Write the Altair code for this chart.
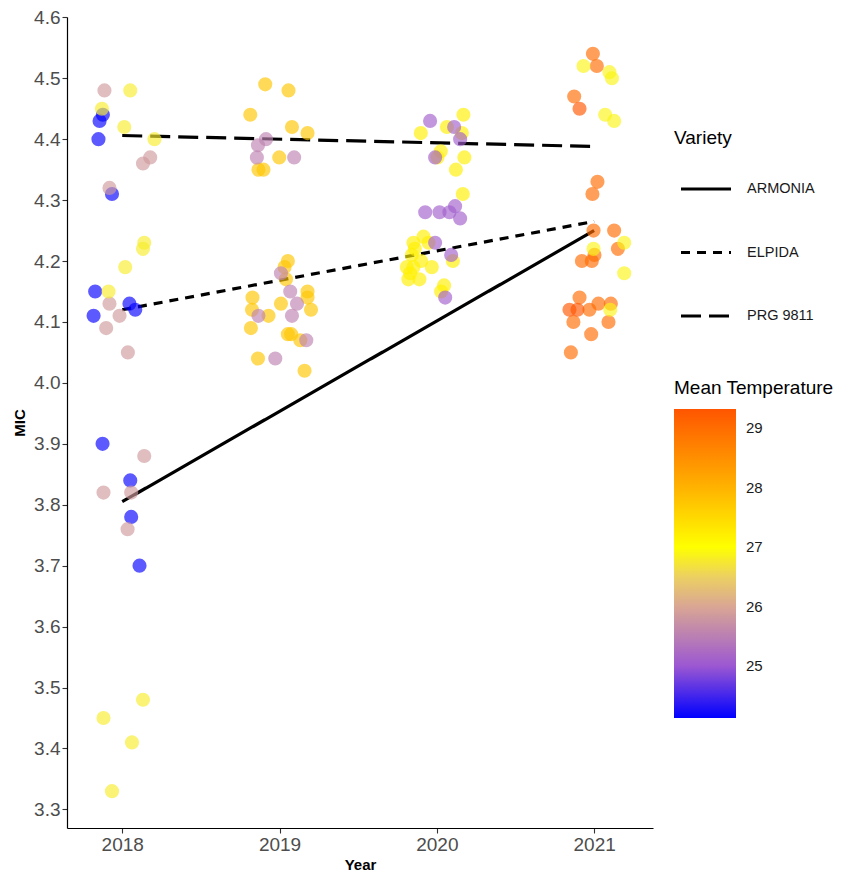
import altair as alt
import pandas as pd

# ---- point data (jittered Year, MIC, mean temperature) ----
x_2018_blue = [2017.877, 2017.856, 2017.849, 2017.935, 2017.828, 2018.046, 2018.083, 2017.818, 2017.875, 2018.051, 2018.057, 2018.110]
y_2018_blue = [4.44, 4.43, 4.40, 4.31, 4.15, 4.13, 4.12, 4.11, 3.90, 3.84, 3.78, 3.70]
x_2018_pink = [2017.887, 2018.178, 2018.132, 2017.919, 2017.919, 2017.983, 2017.898, 2018.036, 2018.140, 2017.881, 2018.057, 2018.034]
y_2018_pink = [4.48, 4.37, 4.36, 4.32, 4.13, 4.11, 4.09, 4.05, 3.88, 3.82, 3.82, 3.76]
x_2018_yell = [2018.051, 2017.871, 2018.013, 2018.205, 2018.140, 2018.132, 2018.019, 2017.913, 2018.132, 2017.881, 2018.062, 2017.935]
y_2018_yell = [4.48, 4.45, 4.42, 4.40, 4.23, 4.22, 4.19, 4.15, 3.48, 3.45, 3.41, 3.33]

x_2019_gold = [2018.909, 2019.057, 2018.814, 2019.079, 2019.178, 2018.998, 2018.866, 2018.898, 2019.053, 2019.032, 2019.041, 2019.178,
               2018.828, 2019.178, 2019.009, 2018.825, 2019.200, 2018.930, 2018.818, 2019.053, 2019.074, 2019.132, 2018.863, 2019.159]
y_2019_gold = [4.49, 4.48, 4.44, 4.42, 4.41, 4.37, 4.35, 4.35, 4.20, 4.19, 4.17, 4.15,
               4.14, 4.14, 4.13, 4.12, 4.12, 4.11, 4.09, 4.08, 4.08, 4.07, 4.04, 4.02]
x_2019_mauv = [2018.914, 2018.863, 2018.856, 2019.093, 2019.009, 2019.068, 2019.111, 2019.079, 2018.866, 2019.170, 2018.973]
y_2019_mauv = [4.40, 4.39, 4.37, 4.37, 4.18, 4.15, 4.13, 4.11, 4.11, 4.07, 4.04]

x_2020_yell = [2020.169, 2020.064, 2019.898, 2020.159, 2020.025, 2020.004, 2020.175, 2020.121, 2020.165, 2019.915, 2019.851, 2019.947,
               2019.841, 2020.102, 2019.809, 2019.851, 2019.968, 2019.830, 2019.889, 2019.819, 2020.046, 2020.027, 2019.860, 2019.900]
y_2020_yell = [4.44, 4.42, 4.41, 4.41, 4.38, 4.37, 4.37, 4.35, 4.31, 4.24, 4.23, 4.23,
               4.21, 4.20, 4.19, 4.19, 4.19, 4.18, 4.17, 4.17, 4.16, 4.15, 4.22, 4.20]
x_2020_purp = [2019.957, 2020.110, 2020.148, 2019.989, 2019.926, 2020.017, 2020.116, 2020.080, 2020.148, 2019.989, 2020.091, 2020.053]
y_2020_purp = [4.43, 4.42, 4.40, 4.37, 4.28, 4.28, 4.29, 4.28, 4.27, 4.23, 4.21, 4.14]

x_2021_oran = [2020.992, 2021.017, 2020.873, 2021.021, 2020.989, 2020.996, 2021.127, 2021.151, 2021.002, 2020.922, 2020.985,
               2020.907, 2021.027, 2021.106, 2020.970, 2020.868, 2021.091, 2020.981, 2020.852]
y_2021_oran = [4.54, 4.52, 4.47, 4.33, 4.31, 4.25, 4.25, 4.22, 4.21, 4.20, 4.20,
               4.14, 4.13, 4.13, 4.12, 4.10, 4.10, 4.08, 4.05]
x_2021_dark = [2020.907, 2020.843, 2020.894]
y_2021_dark = [4.45, 4.12, 4.12]
x_2021_yell = [2020.932, 2021.097, 2021.113, 2021.070, 2021.127, 2021.191, 2020.996, 2021.191, 2021.102]
y_2021_yell = [4.52, 4.51, 4.50, 4.44, 4.43, 4.23, 4.22, 4.18, 4.12]

groups = [
    (x_2018_blue, y_2018_blue, 24.15),
    (x_2018_pink, y_2018_pink, 25.85),
    (x_2018_yell, y_2018_yell, 26.80),
    (x_2019_gold, y_2019_gold, 27.75),
    (x_2019_mauv, y_2019_mauv, 25.55),
    (x_2020_yell, y_2020_yell, 27.20),
    (x_2020_purp, y_2020_purp, 25.10),
    (x_2021_oran, y_2021_oran, 29.00),
    (x_2021_dark, y_2021_dark, 29.30),
    (x_2021_yell, y_2021_yell, 26.90),
]

rows = []
for xs, ys, t in groups:
    for xv, yv in zip(xs, ys):
        rows.append({"Year": xv, "MIC": yv, "Mean Temperature": t})
points = pd.DataFrame(rows)

# ---- fitted lines per variety ----
line_variety = ["ARMONIA", "ARMONIA", "ELPIDA", "ELPIDA", "PRG 9811", "PRG 9811"]
line_year = [2018, 2021, 2018, 2021, 2018, 2021]
line_mic = [3.805, 4.25, 4.12, 4.265, 4.406, 4.388]
lines = pd.DataFrame({"Variety": line_variety, "Year": line_year, "MIC": line_mic})

varieties = ["ARMONIA", "ELPIDA", "PRG 9811"]
temp_stops = [24.13, 25.0, 26.0, 26.6, 27.0, 28.0, 29.32]
temp_colors = ["#0000ff", "#9b57d2", "#d9a694", "#f0d858", "#ffff00", "#ffb300", "#ff5500"]
y_ticks = [3.3, 3.4, 3.5, 3.6, 3.7, 3.8, 3.9, 4.0, 4.1, 4.2, 4.3, 4.4, 4.5, 4.6]
x_ticks = [2018, 2019, 2020, 2021]

FONT = "Liberation Sans"

x_enc = alt.X("Year:Q",
              scale=alt.Scale(domain=[2017.649, 2021.374], nice=False, zero=False),
              axis=alt.Axis(values=x_ticks, format="d", title="Year", titlePadding=3, labelPadding=2))
y_enc = alt.Y("MIC:Q",
              scale=alt.Scale(domain=[3.2695, 4.6005], nice=False, zero=False),
              axis=alt.Axis(values=y_ticks, format=".1f", title="MIC", titlePadding=6, labelPadding=2))

line_layer = alt.Chart(lines).mark_line(color="black", strokeWidth=3.2).encode(
    x=x_enc,
    y=y_enc,
    strokeDash=alt.StrokeDash(
        "Variety:N",
        scale=alt.Scale(domain=varieties, range=[[1, 0], [9, 7], [20, 8]]),
        legend=alt.Legend(
            title="Variety", orient="none", legendX=607, legendY=112,
            symbolType="stroke", symbolSize=2500, symbolStrokeWidth=3.2,
            symbolStrokeColor="black", rowPadding=29.5, titlePadding=14,
            symbolOffset=5, labelOffset=14, labelFontSize=14.5, titleFontSize=19,
        ),
    ),
)

point_layer = alt.Chart(points).mark_circle(size=200, opacity=1, fillOpacity=0.65).encode(
    x=x_enc,
    y=y_enc,
    color=alt.Color(
        "Mean Temperature:Q",
        scale=alt.Scale(domain=temp_stops, range=temp_colors, interpolate="rgb"),
        legend=alt.Legend(
            title="Mean Temperature", orient="none", legendX=607, legendY=362,
            direction="vertical", gradientLength=309, gradientThickness=62,
            values=[25, 26, 27, 28, 29], labelOffset=10, labelFontSize=15,
            titleFontSize=19, titlePadding=11, gradientStrokeWidth=0,
        ),
    ),
)

chart = alt.layer(line_layer, point_layer).properties(
    width=586, height=811,
    autosize=alt.AutoSizeParams(type="none"),
    padding={"left": 59, "top": 9, "right": 200, "bottom": 43},
).configure_view(stroke=None).configure_axis(
    grid=False, domainColor="black", domainWidth=1.2, tickColor="#333333",
    tickSize=5, tickWidth=1.1, labelFont=FONT, labelFontSize=19, labelColor="#4d4d4d",
    titleFont=FONT, titleFontSize=15, titleFontWeight="bold", titleColor="black",
).configure_legend(
    labelFont=FONT, titleFont=FONT, labelColor="#1a1a1a", titleColor="black",
    titleFontWeight="normal",
)

chart.save("out.html", embed_options={"renderer": "svg", "actions": False})
